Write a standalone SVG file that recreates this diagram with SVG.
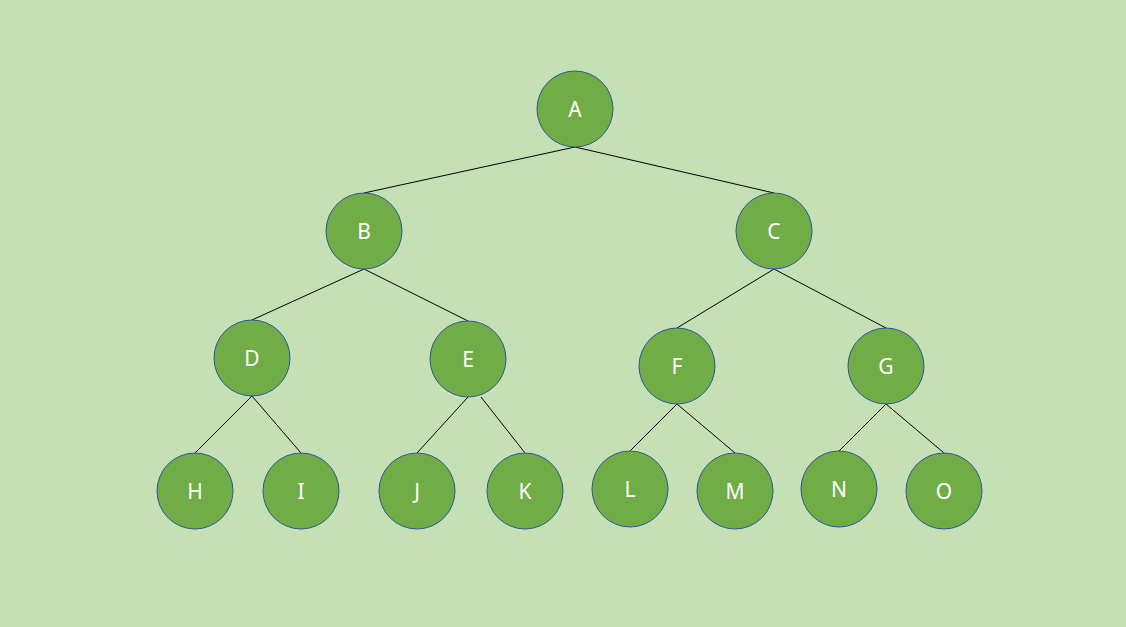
<svg xmlns="http://www.w3.org/2000/svg" width="1126" height="627" viewBox="0 0 1126 627">
<style>
.n{fill:#70AD47;stroke:#2F5597;stroke-width:1}
.t{fill:#fff;font-family:"Noto Sans","DejaVu Sans",sans-serif;font-size:21px;text-anchor:middle;dominant-baseline:central}
.e{stroke:#000;stroke-width:1;fill:none}
</style>
<rect width="1126" height="627" fill="#C5E0B4"/>
<g id="connectors" class="e">
<line x1="575" y1="147" x2="364" y2="193"/>
<line x1="575" y1="147" x2="774" y2="193"/>
<line x1="364" y1="269" x2="252" y2="320"/>
<line x1="364" y1="269" x2="468" y2="321"/>
<line x1="774" y1="269" x2="677" y2="328"/>
<line x1="774" y1="269" x2="886" y2="328"/>
<line x1="252" y1="396" x2="195" y2="453"/>
<line x1="252" y1="396" x2="301" y2="453"/>
<line x1="468" y1="397" x2="417" y2="453"/>
<line x1="481" y1="397" x2="525" y2="453"/>
<line x1="677" y1="404" x2="630" y2="451"/>
<line x1="677" y1="404" x2="735" y2="453"/>
<line x1="886" y1="404" x2="839" y2="451"/>
<line x1="886" y1="404" x2="944" y2="453"/>
</g>
<g id="A"><circle class="n" cx="575" cy="109" r="38"/><text class="t" x="575" y="109">A</text></g>
<g id="B"><circle class="n" cx="364" cy="231" r="38"/><text class="t" x="364" y="231">B</text></g>
<g id="C"><circle class="n" cx="774" cy="231" r="38"/><text class="t" x="774" y="231">C</text></g>
<g id="D"><circle class="n" cx="252" cy="358" r="38"/><text class="t" x="252" y="358">D</text></g>
<g id="E"><circle class="n" cx="468" cy="359" r="38"/><text class="t" x="468" y="359">E</text></g>
<g id="F"><circle class="n" cx="677" cy="366" r="38"/><text class="t" x="677" y="366">F</text></g>
<g id="G"><circle class="n" cx="886" cy="366" r="38"/><text class="t" x="886" y="366">G</text></g>
<g id="H"><circle class="n" cx="195" cy="491" r="38"/><text class="t" x="195" y="491">H</text></g>
<g id="I"><circle class="n" cx="301" cy="491" r="38"/><text class="t" x="301" y="491">I</text></g>
<g id="J"><circle class="n" cx="417" cy="491" r="38"/><text class="t" x="417" y="491">J</text></g>
<g id="K"><circle class="n" cx="525" cy="491" r="38"/><text class="t" x="525" y="491">K</text></g>
<g id="L"><circle class="n" cx="630" cy="489" r="38"/><text class="t" x="630" y="489">L</text></g>
<g id="M"><circle class="n" cx="735" cy="491" r="38"/><text class="t" x="735" y="491">M</text></g>
<g id="N"><circle class="n" cx="839" cy="489" r="38"/><text class="t" x="839" y="489">N</text></g>
<g id="O"><circle class="n" cx="944" cy="491" r="38"/><text class="t" x="944" y="491">O</text></g>
</svg>
